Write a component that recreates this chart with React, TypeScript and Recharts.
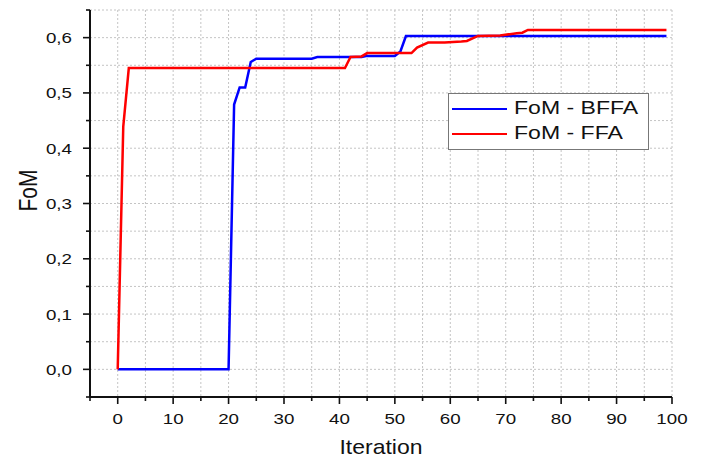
import React from 'react';
import { LineChart, Line, XAxis, YAxis, CartesianGrid } from 'recharts';

// points: [iteration, FoM]
const bffaIter = [0, 20, 21, 22, 23, 24, 25, 35, 36, 44, 45, 50, 51, 52, 99];
const bffaFom = [0, 0, 0.479, 0.51, 0.51, 0.556, 0.562, 0.562, 0.565, 0.565, 0.567, 0.567, 0.575, 0.603, 0.603];

const ffaIter = [0, 1, 2, 41, 42, 44, 45, 53, 54, 56, 59, 62, 63, 65, 69, 72, 73, 74, 99];
const ffaFom = [0, 0.439, 0.545, 0.545, 0.565, 0.566, 0.572, 0.572, 0.582, 0.591, 0.591, 0.593, 0.594, 0.603, 0.604, 0.608, 0.609, 0.614, 0.614];

const seriesNames = ['FoM - BFFA', 'FoM - FFA'];
const seriesColors = ['#0000ff', '#ff0000'];

const xTicks = [-5, 0, 5, 10, 15, 20, 25, 30, 35, 40, 45, 50, 55, 60, 65, 70, 75, 80, 85, 90, 95, 100];
const yTicks = [-0.05, 0, 0.05, 0.1, 0.15, 0.2, 0.25, 0.3, 0.35, 0.4, 0.45, 0.5, 0.55, 0.6, 0.65];

const bffaData = bffaIter.map((x, i) => ({ x, y: bffaFom[i] }));
const ffaData = ffaIter.map((x, i) => ({ x, y: ffaFom[i] }));

const FONT = '"Liberation Sans", Arial, sans-serif';
const STRETCH = 1.25; // the source picture is stretched sideways

const XTick = (props: any) => {
  const { x, y, payload } = props;
  const v = payload.value;
  const major = v % 10 === 0;
  return (
    <g>
      <line x1={x} y1={y} x2={x} y2={y + (major ? 7 : 4)} stroke="#111" strokeWidth={1.6} />
      {major && (
        <g transform={`translate(${x},${y + 27}) scale(${STRETCH},1)`}>
          <text x={0} y={0} textAnchor="middle" fontSize={15} fontFamily={FONT} fill="#111">
            {v}
          </text>
        </g>
      )}
    </g>
  );
};

const YTick = (props: any) => {
  const { x, y, payload } = props;
  const v = payload.value;
  const major = Math.round(v * 100) % 10 === 0;
  return (
    <g>
      <line x1={x} y1={y} x2={x - (major ? 7 : 4)} y2={y} stroke="#111" strokeWidth={1.6} />
      {major && v >= 0 && (
        <g transform={`translate(${x - 18},${y + 5.5}) scale(${STRETCH},1)`}>
          <text x={0} y={0} textAnchor="end" fontSize={15} fontFamily={FONT} fill="#111">
            {v.toFixed(1).replace('.', ',')}
          </text>
        </g>
      )}
    </g>
  );
};

const YLabel = (props: any) => {
  const { viewBox } = props;
  const cx = viewBox.x + 28;
  const cy = viewBox.y + viewBox.height / 2 - 13;
  return (
    <g transform={`translate(${cx},${cy}) scale(${STRETCH},1) rotate(-90)`}>
      <text x={0} y={7} textAnchor="middle" fontSize={21} fontFamily={FONT} fill="#111">
        FoM
      </text>
    </g>
  );
};

const XLabel = (props: any) => {
  const { viewBox } = props;
  const cx = viewBox.x + viewBox.width / 2;
  return (
    <g transform={`translate(${cx},${viewBox.y + 57}) scale(1.15,1)`}>
      <text x={0} y={0} textAnchor="middle" fontSize={20} fontFamily={FONT} fill="#111">
        Iteration
      </text>
    </g>
  );
};

export default function App() {
  return (
    <div style={{ position: 'absolute', left: 0, top: 0, width: 714, height: 463, background: '#fff' }}>
      <LineChart width={714} height={463} margin={{ top: 10, right: 42, bottom: 0, left: 0 }}>
        <CartesianGrid stroke="#c4c4c4" strokeDasharray="2 2" />
        <XAxis
          type="number"
          dataKey="x"
          domain={[-5, 100]}
          ticks={xTicks}
          allowDataOverflow
          height={66}
          tickSize={0}
          tickMargin={0}
          tickLine={false}
          tick={<XTick />}
          axisLine={{ stroke: '#111', strokeWidth: 2 }}
          interval={0}
          label={<XLabel />}
        />
        <YAxis
          type="number"
          dataKey="y"
          domain={[-0.05, 0.65]}
          ticks={yTicks}
          allowDataOverflow
          width={90}
          tickSize={0}
          tickMargin={0}
          tickLine={false}
          tick={<YTick />}
          axisLine={{ stroke: '#111', strokeWidth: 2 }}
          interval={0}
          label={<YLabel />}
        />
        <Line data={bffaData} dataKey="y" name={seriesNames[0]} type="linear" stroke={seriesColors[0]} strokeWidth={2.5} dot={false} isAnimationActive={false} />
        <Line data={ffaData} dataKey="y" name={seriesNames[1]} type="linear" stroke={seriesColors[1]} strokeWidth={2.5} dot={false} isAnimationActive={false} />
      </LineChart>
      <div
        style={{
          position: 'absolute',
          left: 448,
          top: 93,
          width: 199,
          height: 53,
          border: '1px solid #777',
          background: '#fff',
          paddingTop: 2,
          boxSizing: 'content-box',
          fontFamily: FONT,
        }}
      >
        {seriesNames.map((name, i) => (
          <div key={name} style={{ display: 'flex', alignItems: 'center', height: 25 }}>
            <div style={{ width: 55, height: 2, marginLeft: 3, background: seriesColors[i] }} />
            <span
              style={{
                marginLeft: 7,
                fontSize: 18,
                lineHeight: '25px',
                color: '#111',
                display: 'inline-block',
                transform: 'scaleX(1.28)',
                transformOrigin: 'left center',
                whiteSpace: 'nowrap',
              }}
            >
              {name}
            </span>
          </div>
        ))}
      </div>
    </div>
  );
}
